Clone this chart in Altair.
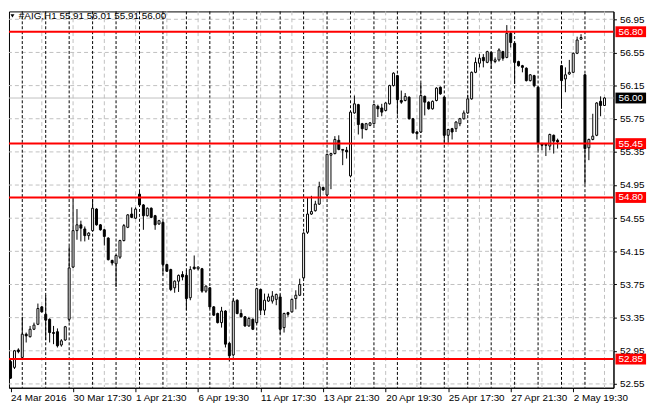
import json
import altair as alt
import pandas as pd

# ---- data (H1 candles, oldest first) ----
opens = [52.82, 52.75, 52.96, 52.87, 53.15, 53.12, 53.21, 53.27, 53.48, 53.39,
         53.33, 53.17, 53.18, 53.02, 53.08, 53.33, 53.96, 54.40, 54.47, 54.42,
         54.34, 54.40, 54.66, 54.47, 54.41, 54.31, 54.04, 54.00, 54.08, 54.28,
         54.44, 54.60, 54.55, 54.84, 54.71, 54.58, 54.67, 54.58, 54.48, 54.50,
         53.99, 53.93, 53.71, 53.79, 53.87, 53.86, 53.59, 53.96, 53.94, 53.94,
         53.67, 53.71, 53.48, 53.40, 53.29, 53.43, 53.04, 52.90, 53.56, 53.40,
         53.36, 53.25, 53.33, 53.29, 53.69, 53.44, 53.55, 53.55, 53.57, 53.60,
         53.23, 53.41, 53.42, 53.58, 53.62, 53.83, 54.38, 54.60, 54.64, 54.72,
         54.92, 54.83, 55.31, 55.33, 55.49, 55.38, 55.37, 55.06, 55.82, 55.92,
         55.69, 55.62, 55.67, 55.69, 55.90, 55.88, 55.85, 55.93, 56.15, 56.27,
         55.97, 55.97, 56.01, 55.75, 55.59, 55.59, 56.02, 55.95, 55.87, 55.97,
         56.13, 56.01, 55.55, 55.63, 55.63, 55.69, 55.75, 55.82, 55.99, 56.31,
         56.42, 56.49, 56.43, 56.55, 56.44, 56.46, 56.56, 56.49, 56.78, 56.66,
         56.44, 56.39, 56.36, 56.21, 56.27, 56.13, 55.45, 55.44, 55.42, 55.55,
         55.49, 56.39, 56.23, 56.29, 56.31, 56.54, 56.71, 56.28, 55.40, 55.50,
         55.55, 55.96, 55.91]
highs = [52.84, 52.96, 52.98, 53.36, 53.17, 53.25, 53.29, 53.52, 53.49, 53.62,
         53.34, 53.25, 53.22, 53.09, 53.25, 54.21, 54.80, 54.66, 54.52, 54.45,
         54.38, 54.78, 54.67, 54.48, 54.42, 54.32, 54.05, 54.11, 54.29, 54.48,
         54.60, 54.68, 54.68, 54.87, 54.72, 54.68, 54.68, 54.59, 54.53, 54.51,
         54.00, 53.94, 53.80, 53.87, 53.91, 53.92, 53.97, 54.10, 53.97, 53.95,
         53.74, 53.72, 53.49, 53.41, 53.48, 53.44, 53.06, 53.58, 53.57, 53.45,
         53.37, 53.36, 53.34, 53.71, 53.70, 53.64, 53.64, 53.67, 53.64, 53.63,
         53.41, 53.42, 53.58, 53.68, 53.82, 54.38, 54.80, 54.82, 54.76, 54.99,
         54.93, 55.33, 55.34, 55.54, 55.55, 55.38, 55.41, 55.84, 56.03, 55.93,
         55.70, 55.70, 55.71, 55.93, 55.92, 55.93, 55.95, 56.16, 56.31, 56.28,
         56.09, 56.06, 56.02, 55.76, 55.60, 56.18, 56.03, 55.96, 55.97, 56.13,
         56.14, 56.02, 55.63, 55.64, 55.72, 55.76, 55.85, 56.04, 56.32, 56.49,
         56.53, 56.53, 56.57, 56.56, 56.49, 56.60, 56.57, 56.88, 56.80, 56.67,
         56.45, 56.40, 56.37, 56.29, 56.28, 56.14, 55.46, 55.45, 55.57, 55.56,
         55.51, 56.40, 56.37, 56.46, 56.55, 56.74, 56.77, 56.29, 55.51, 55.81,
         55.95, 56.02, 56.01]
lows = [52.61, 52.73, 52.92, 52.86, 53.05, 53.11, 53.20, 53.26, 53.41, 53.08,
        53.05, 53.03, 52.99, 53.00, 53.07, 53.30, 53.95, 54.29, 54.27, 54.27,
        54.29, 54.39, 54.46, 54.40, 54.22, 54.04, 53.98, 53.72, 54.06, 54.27,
        54.43, 54.55, 54.54, 54.70, 54.41, 54.57, 54.55, 54.41, 54.47, 53.87,
        53.90, 53.67, 53.65, 53.66, 53.80, 53.44, 53.56, 53.93, 53.92, 53.65,
        53.65, 53.46, 53.37, 53.28, 53.23, 52.99, 52.82, 52.88, 53.39, 53.35,
        53.24, 53.24, 53.20, 53.28, 53.38, 53.38, 53.54, 53.52, 53.50, 53.15,
        53.17, 53.36, 53.41, 53.45, 53.61, 53.82, 54.36, 54.59, 54.63, 54.71,
        54.88, 54.82, 54.90, 55.32, 55.37, 55.19, 55.27, 55.05, 55.81, 55.56,
        55.51, 55.61, 55.66, 55.68, 55.77, 55.78, 55.84, 55.92, 56.14, 55.80,
        55.93, 55.96, 55.74, 55.57, 55.50, 55.58, 55.79, 55.86, 55.86, 55.96,
        56.04, 55.46, 55.46, 55.50, 55.59, 55.66, 55.74, 55.81, 55.98, 56.30,
        56.37, 56.37, 56.42, 56.35, 56.42, 56.44, 56.45, 56.48, 56.61, 56.17,
        56.38, 56.31, 56.20, 56.20, 56.13, 55.37, 55.37, 55.30, 55.37, 55.33,
        55.39, 55.87, 56.07, 56.28, 56.30, 56.53, 56.70, 54.96, 55.25, 55.49,
        55.54, 55.78, 55.91]
closes = [52.62, 52.95, 52.94, 53.15, 53.13, 53.21, 53.26, 53.46, 53.42, 53.32,
          53.17, 53.16, 53.01, 53.07, 53.24, 53.95, 54.40, 54.47, 54.43, 54.34,
          54.37, 54.67, 54.47, 54.41, 54.33, 54.05, 54.01, 54.10, 54.28, 54.46,
          54.59, 54.56, 54.66, 54.71, 54.58, 54.67, 54.56, 54.47, 54.52, 53.99,
          53.91, 53.69, 53.79, 53.86, 53.84, 53.58, 53.93, 53.94, 53.96, 53.67,
          53.73, 53.48, 53.38, 53.29, 53.43, 53.03, 52.89, 53.55, 53.40, 53.36,
          53.25, 53.34, 53.21, 53.70, 53.44, 53.56, 53.60, 53.61, 53.63, 53.21,
          53.40, 53.39, 53.57, 53.62, 53.75, 54.37, 54.60, 54.63, 54.72, 54.93,
          54.89, 55.32, 55.33, 55.50, 55.38, 55.37, 55.35, 55.83, 55.93, 55.68,
          55.63, 55.69, 55.70, 55.92, 55.87, 55.83, 55.94, 56.15, 56.30, 55.98,
          55.95, 56.02, 55.75, 55.58, 55.57, 56.03, 55.95, 55.87, 55.96, 56.12,
          56.05, 55.55, 55.62, 55.59, 55.71, 55.75, 55.82, 55.99, 56.31, 56.43,
          56.48, 56.45, 56.56, 56.45, 56.46, 56.58, 56.48, 56.78, 56.67, 56.43,
          56.39, 56.37, 56.21, 56.28, 56.15, 55.45, 55.43, 55.43, 55.56, 55.48,
          55.47, 56.21, 56.28, 56.31, 56.54, 56.70, 56.73, 55.39, 55.50, 55.54,
          55.94, 55.91, 56.00]

x_labels = ["24 Mar 2016", "30 Mar 17:30", "1 Apr 21:30", "6 Apr 19:30",
            "11 Apr 17:30", "13 Apr 21:30", "20 Apr 19:30", "25 Apr 17:30",
            "27 Apr 21:30", "2 May 19:30"]
label_step = 16
grid_step = 8
bars_per_day = 6
first_day_bar = 3
y_ticks = [52.55, 52.95, 53.35, 53.75, 54.15, 54.55, 54.95, 55.35,
           55.75, 56.15, 56.55, 56.95]
levels = [56.80, 55.45, 54.80, 52.85]
bid = 56.00
title_text = "#AIG,H1  55.91 56.01 55.91 56.00"

# ---- tables ----
n = len(opens)
df = pd.DataFrame({"k": list(range(n)), "o": opens, "h": highs, "l": lows, "c": closes})
df["fillc"] = ["white" if c >= o else "black" for o, c in zip(opens, closes)]

hgrid = pd.DataFrame({"v": y_ticks})
vgrid = pd.DataFrame({"k": list(range(grid_step, n, grid_step))})
seps = pd.DataFrame({"k": list(range(first_day_bar, n, bars_per_day))})
red_df = pd.DataFrame({"v": levels})
bid_df = pd.DataFrame({"v": [bid]})
tags = pd.DataFrame({
    "v": levels + [bid],
    "t": [f"{v:.2f}" for v in levels + [bid]],
    "bg": ["#ff0000"] * len(levels) + ["black"],
})
title_df = pd.DataFrame({"t": [title_text]})

FONT = "Liberation Sans"
W, H = 612, 381
xs = alt.Scale(domain=[-0.4, 154.3], nice=False, zero=False, padding=0)
ys = alt.Scale(domain=[52.504, 57.045], nice=False, zero=False, padding=0)

label_expr = json.dumps(x_labels) + f"[round(datum.value/{label_step})]"
xaxis = alt.Axis(values=list(range(0, label_step * len(x_labels), label_step)),
                 labelExpr=label_expr, labelAlign="left", labelBaseline="top",
                 labelPadding=1, tickSize=4, tickColor="black", domainColor="black",
                 labelColor="black", labelFont=FONT, labelFontSize=10, grid=False,
                 title=None, labelOverlap=False, labelFlush=False, zindex=0)
yaxis = alt.Axis(orient="right", values=y_ticks, format=".2f", tickSize=3,
                 labelPadding=3, tickColor="black", domainColor="black",
                 labelColor="black", labelFont=FONT, labelFontSize=10, grid=False,
                 title=None, labelOverlap=False, labelFlush=False, zindex=0)

X = lambda f: alt.X(f, scale=xs, axis=xaxis)
Y = lambda f: alt.Y(f, scale=ys, axis=yaxis)

l_hgrid = alt.Chart(hgrid).mark_rule(color="#c0c0c0", strokeDash=[4, 3], strokeWidth=1).encode(y=Y("v:Q"))
l_vgrid = alt.Chart(vgrid).mark_rule(color="#c0c0c0", strokeDash=[4, 3], strokeWidth=1).encode(x=X("k:Q"))
l_seps = alt.Chart(seps).mark_rule(color="black", strokeDash=[3, 2], strokeWidth=1).encode(x=X("k:Q"))
l_bid = alt.Chart(bid_df).mark_rule(color="#c0c0c0", strokeWidth=1).encode(y=Y("v:Q"))
l_wick = alt.Chart(df).mark_rule(color="black", strokeWidth=1).encode(x=X("k:Q"), y=Y("l:Q"), y2="h:Q")
l_body = alt.Chart(df).mark_bar(size=2, stroke="black", strokeWidth=1).encode(
    x=X("k:Q"), y=Y("o:Q"), y2="c:Q", fill=alt.Fill("fillc:N", scale=None))
l_red = alt.Chart(red_df).mark_rule(color="#ff0000", strokeWidth=2).encode(y=Y("v:Q"))
l_tagbox = alt.Chart(tags).mark_rule(strokeWidth=11).encode(
    x=alt.value(614), x2=alt.value(645), y=Y("v:Q"), color=alt.Color("bg:N", scale=None))
l_tagtxt = alt.Chart(tags).mark_text(align="left", baseline="middle", font=FONT,
                                     fontSize=10, color="white").encode(
    x=alt.value(617), y=Y("v:Q"), text="t:N")
l_title = alt.Chart(title_df).mark_text(align="left", baseline="middle", font=FONT,
                                        fontSize=10, color="black").encode(
    x=alt.value(10), y=alt.value(5), text="t:N")
l_tri = alt.Chart(title_df).mark_point(shape="triangle-down", filled=True, color="black",
                                       size=16, opacity=1).encode(
    x=alt.value(3.5), y=alt.value(4.5))

chart = alt.layer(l_hgrid, l_vgrid, l_seps, l_bid, l_wick, l_body, l_red,
                  l_tagbox, l_tagtxt, l_title, l_tri).properties(
    width=W, height=H, padding={"left": 0, "top": 0, "right": 0, "bottom": 0},
    background="white",
).configure_view(stroke="black", strokeWidth=1)

chart.save("out.html", embed_options={"renderer": "svg", "actions": False})
